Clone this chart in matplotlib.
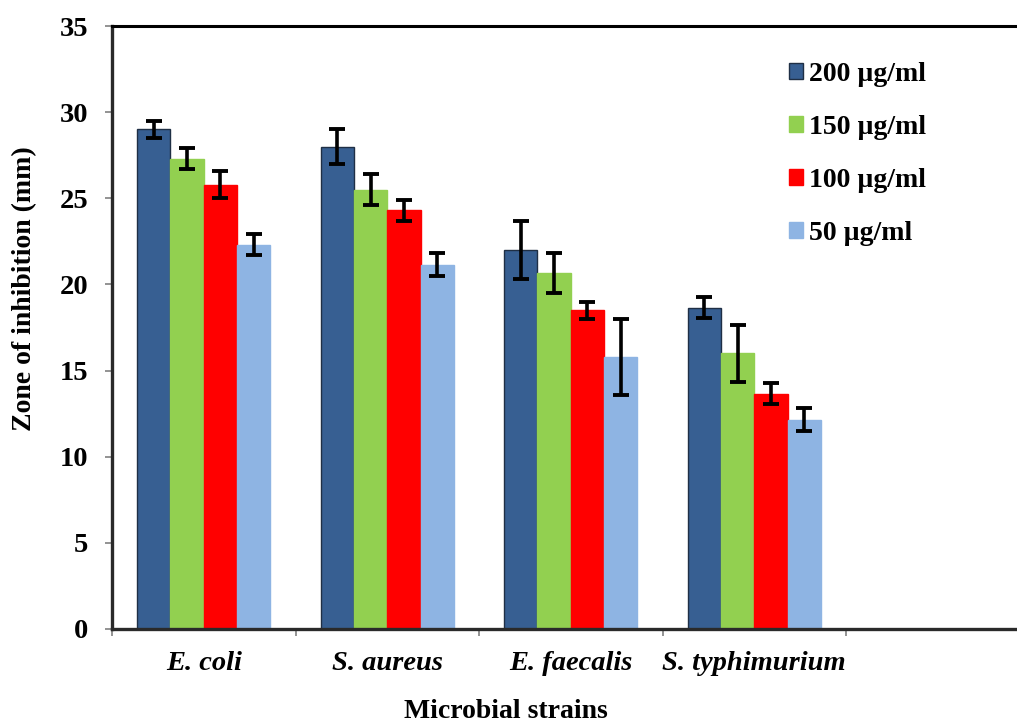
import numpy as np
import matplotlib
matplotlib.use('Agg')
import matplotlib.pyplot as plt

# data
strains = ['E. coli', 'S. aureus', 'E. faecalis', 'S. typhimurium']
concs = ['200 µg/ml', '150 µg/ml', '100 µg/ml', '50 µg/ml']

vals_200 = [29.0, 28.0, 22.0, 18.65]
vals_150 = [27.3, 25.5, 20.65, 16.0]
vals_100 = [25.8, 24.3, 18.5, 13.65]
vals_50 = [22.3, 21.15, 15.8, 12.15]

err_200 = [0.5, 1.0, 1.7, 0.6]
err_150 = [0.6, 0.9, 1.15, 1.65]
err_100 = [0.8, 0.6, 0.5, 0.6]
err_50 = [0.6, 0.65, 2.2, 0.68]

colors = ['#375F92', '#92D050', '#FF0000', '#8EB4E3']
edges = ['#1F2F45', '#92D050', '#FF0000', '#8EB4E3']

plt.rcParams['font.family'] = 'Liberation Serif'
plt.rcParams['font.weight'] = 'bold'
plt.rcParams['font.size'] = 20

fig = plt.figure(figsize=(10.17, 7.23), dpi=100)
# axes runs a bit past the right edge, like the cropped original
ax = fig.add_axes([112 / 1017, 1 - 629 / 723, (1029.5 - 112) / 1017, 603 / 723])

x = np.arange(len(strains)) + 0.5
w = 0.1815
series = [vals_200, vals_150, vals_100, vals_50]
errs = [err_200, err_150, err_100, err_50]

for k in range(4):
    ax.bar(x + (k - 1.5) * w, series[k], width=w, color=colors[k],
           edgecolor=edges[k], linewidth=1.0, label=concs[k], zorder=2)
    ax.errorbar(x + (k - 1.5) * w, series[k], yerr=errs[k], fmt='none',
                ecolor='black', elinewidth=2.6, capsize=5.5, capthick=2.8, zorder=3)

ax.set_xlim(0, 5)
ax.set_ylim(0, 35)
ax.set_yticks(np.arange(0, 36, 5))
ax.tick_params(axis='y', labelsize=20.5)

# category labels at slot centres, tick marks at slot boundaries
ax.set_xticks(x)
ax.set_xticklabels(strains, fontstyle='italic', fontweight='bold', fontsize=20.5)
ax.set_xticks(np.arange(0, 6), minor=True)
ax.tick_params(axis='x', which='major', length=0, pad=16)
ax.tick_params(axis='x', which='minor', length=5, width=1.2, color='#808080', direction='out')
ax.tick_params(axis='y', length=5, width=1.2, color='#808080', direction='out', pad=12)

for s in ['left', 'bottom']:
    ax.spines[s].set_color('#2a2a2a')
    ax.spines[s].set_linewidth(2.4)
for s in ['top', 'right']:
    ax.spines[s].set_color('black')
    ax.spines[s].set_linewidth(2.2)

fig.text(0.497, 1 - 711 / 723, 'Microbial strains', ha='center', va='center',
         fontsize=20, fontweight='bold')
fig.text(25 / 1017, 1 - 289 / 723, 'Zone of inhibition (mm)', ha='center', va='center',
         rotation=90, fontsize=20, fontweight='bold')

leg = ax.legend(loc='center left', bbox_to_anchor=(789 / 1017, 1 - 154 / 723),
                bbox_transform=fig.transFigure, frameon=False, borderpad=0,
                borderaxespad=0, handlelength=0.5, handleheight=0.5,
                handletextpad=0.22, labelspacing=1.01, fontsize=20)

fig.savefig('out.png', dpi=100)
